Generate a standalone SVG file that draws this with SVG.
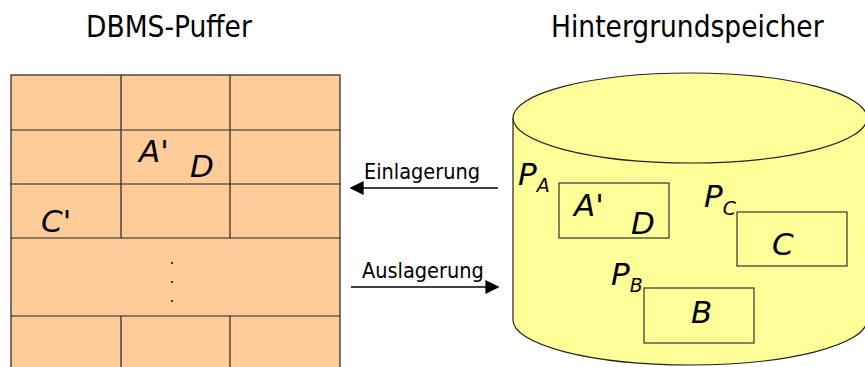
<svg xmlns="http://www.w3.org/2000/svg" width="865" height="367" viewBox="0 0 865 367">
  <defs>
    <marker id="arrow" viewBox="0 0 10 10" refX="9" refY="5" markerWidth="14" markerHeight="14" markerUnits="userSpaceOnUse" orient="auto">
      <path d="M0,0 L10,5 L0,10 z" fill="#000"/>
    </marker>
  </defs>
  <style>
    .title { font-family: "DejaVu Sans Condensed", "DejaVu Sans", sans-serif; font-size: 29.5px; fill: #000; }
    .lbl { font-family: "DejaVu Sans Condensed", "DejaVu Sans", sans-serif; font-size: 21.5px; fill: #000; }
    .it { font-family: "DejaVu Sans", sans-serif; font-style: italic; font-size: 31px; fill: #000; }
    .sub { font-size: 19px; }
    .grid { fill: #FFCC99; stroke: #222; stroke-width: 1.2; }
    .cell { fill: none; stroke: #222; stroke-width: 1.2; }
    .disk { fill: #FFFF99; stroke: #222; stroke-width: 1.2; }
    .page { fill: #FFFF99; stroke: #333; stroke-width: 1.2; }
    .conn { stroke: #000; stroke-width: 1.4; fill: none; }
  </style>
  <rect width="865" height="367" fill="#fff"/>

  <text class="title" x="86" y="37">DBMS-Puffer</text>
  <text class="title" x="551" y="37">Hintergrundspeicher</text>

  <!-- buffer frames -->
  <g id="buffer">
    <rect class="grid" x="11" y="75" width="329" height="300"/>
    <line class="cell" x1="11" y1="130" x2="340" y2="130"/>
    <line class="cell" x1="11" y1="184" x2="340" y2="184"/>
    <line class="cell" x1="11" y1="238" x2="340" y2="238"/>
    <line class="cell" x1="11" y1="316" x2="340" y2="316"/>
    <line class="cell" x1="121" y1="75" x2="121" y2="238"/>
    <line class="cell" x1="230" y1="75" x2="230" y2="238"/>
    <line class="cell" x1="121" y1="316" x2="121" y2="367"/>
    <line class="cell" x1="230" y1="316" x2="230" y2="367"/>
    <text class="it" x="139" y="162">A'</text>
    <text class="it" x="190" y="177">D</text>
    <text class="it" x="41" y="232">C'</text>
    <circle cx="172" cy="263" r="1" fill="#000"/>
    <circle cx="172" cy="282" r="1" fill="#000"/>
    <circle cx="172" cy="301" r="1" fill="#000"/>
  </g>

  <!-- secondary storage -->
  <g id="storage">
    <path class="disk" d="M513,118 L513,320 A177,45 0 0 0 867,320 L867,118"/>
    <ellipse class="disk" cx="690" cy="118" rx="177" ry="45"/>
    <text class="it" x="518" y="185">P<tspan class="sub" dy="7">A</tspan></text>
    <text class="it" x="704" y="207">P<tspan class="sub" dy="8">C</tspan></text>
    <text class="it" x="611" y="285">P<tspan class="sub" dy="7">B</tspan></text>
  </g>

  <g id="pageA">
    <rect class="page" x="559" y="183" width="110" height="55"/>
    <text class="it" x="574" y="216">A'</text>
    <text class="it" x="631" y="234">D</text>
  </g>
  <g id="pageC">
    <rect class="page" x="737" y="212" width="110" height="54"/>
    <text class="it" x="772" y="255">C</text>
  </g>
  <g id="pageB">
    <rect class="page" x="644" y="288" width="110" height="55"/>
    <text class="it" x="691" y="323">B</text>
  </g>

  <!-- transfers -->
  <g id="connectors">
    <line class="conn" x1="498" y1="188" x2="351" y2="188" marker-end="url(#arrow)"/>
    <line class="conn" x1="351" y1="287" x2="498" y2="287" marker-end="url(#arrow)"/>
    <text class="lbl" x="364" y="179">Einlagerung</text>
    <text class="lbl" x="362" y="278">Auslagerung</text>
  </g>
</svg>
